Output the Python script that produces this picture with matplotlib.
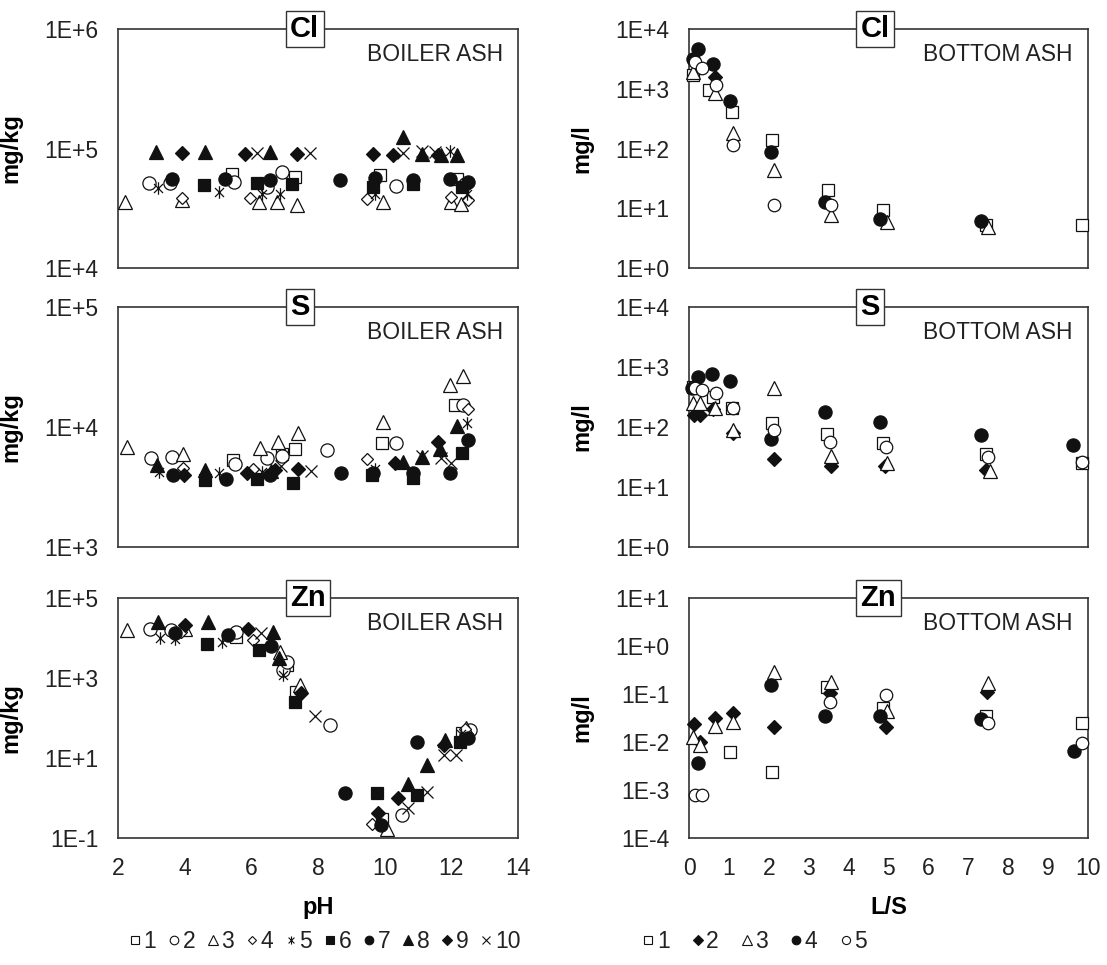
import math
import matplotlib
matplotlib.use('Agg')
import matplotlib.pyplot as plt
from matplotlib.path import Path
from matplotlib.lines import Line2D
from matplotlib.ticker import FixedLocator, FuncFormatter, NullLocator

plt.rcParams['font.family'] = ['Liberation Sans', 'DejaVu Sans']

# ---- boiler ash leaching vs pH (mg/kg), series 1-10: (pH list, value list) ----
cl_boiler = {
    '1': ([5.41, 7.31, 9.86, 12.16], [61600, 58000, 60000, 56000]),
    '2': ([2.94, 3.56, 5.48, 6.46, 6.91, 10.34, 12.4], [51000, 51000, 52000, 48000, 64000, 49000, 50000]),
    '3': ([2.2, 3.91, 6.23, 6.76, 7.36, 9.95, 12.0, 12.3], [35900, 37000, 36000, 36000, 33700, 36000, 36000, 34000]),
    '4': ([3.91, 5.96, 9.46, 12.0, 12.5], [38500, 38500, 38000, 39000, 37000]),
    '5': ([3.21, 5.03, 6.31, 6.86, 9.71, 11.96, 12.46], [46800, 43600, 42000, 42000, 41500, 95000, 42000]),
    '6': ([4.58, 6.16, 7.21, 9.64, 10.84, 12.31], [49600, 51000, 50000, 48000, 50000, 48000]),
    '7': ([3.61, 5.21, 6.56, 8.66, 9.71, 10.84, 11.96, 12.5], [56000, 56000, 54600, 54600, 57000, 54600, 56000, 52000]),
    '8': ([3.14, 4.61, 6.56, 10.55, 11.11, 11.7, 12.16], [94000, 94000, 93000, 126000, 90000, 88000, 88000]),
    '9': ([3.91, 5.81, 7.37, 9.65, 10.25, 11.6], [91000, 90000, 90000, 90000, 88000, 88000]),
    '10': ([6.16, 7.76, 10.55, 11.11, 11.5], [92000, 92000, 92000, 95000, 93000]),
}
s_boiler = {
    '1': ([5.44, 6.93, 7.31, 9.91, 12.1], [5300, 6000, 6500, 7400, 15200]),
    '2': ([3.0, 3.61, 5.5, 6.46, 6.93, 8.26, 10.34, 12.36], [5480, 5600, 4900, 5500, 5700, 6450, 7400, 15200]),
    '3': ([2.26, 3.96, 6.26, 6.81, 7.41, 9.96, 11.96, 12.36], [6850, 6000, 6640, 7550, 8850, 11070, 22400, 26600]),
    '4': ([3.96, 6.06, 9.46, 12.5], [4560, 4500, 5370, 14000]),
    '5': ([3.23, 5.03, 6.33, 9.7, 12.46], [4240, 4100, 4200, 4500, 10900]),
    '6': ([4.61, 6.16, 7.24, 9.63, 10.84, 12.31], [3620, 3660, 3390, 4000, 3760, 6050]),
    '7': ([3.64, 5.24, 6.56, 8.68, 9.66, 10.84, 11.96, 12.5], [3980, 3660, 3980, 4170, 4170, 4170, 4170, 7800]),
    '8': ([3.16, 4.61, 6.6, 10.55, 11.11, 11.65, 12.16], [4820, 4370, 4300, 5100, 5590, 6500, 10200]),
    '9': ([3.97, 5.86, 6.7, 7.41, 10.3, 11.61], [3980, 4170, 4400, 4470, 5000, 7550]),
    '10': ([6.9, 7.79, 11.11, 11.7, 12.0], [4700, 4300, 5700, 5500, 5000]),
}
zn_boiler = {
    '1': ([5.54, 7.08, 7.34, 9.93, 12.31], [10400, 2100, 450, 0.3, 41]),
    '2': ([2.96, 3.6, 5.54, 6.96, 7.06, 8.36, 10.51, 12.56], [16500, 16000, 14000, 1600, 2570, 67, 0.38, 50]),
    '3': ([2.26, 4.02, 6.86, 7.46, 10.08, 12.45], [15800, 16500, 4550, 670, 0.17, 55]),
    '4': ([3.9, 6.06, 9.61, 12.4], [14000, 8900, 0.23, 52]),
    '5': ([3.25, 3.71, 5.11, 6.96, 12.3], [9800, 9500, 8100, 1190, 40]),
    '6': ([4.66, 6.24, 7.31, 9.76, 10.96, 12.26], [6900, 5000, 255, 1.3, 1.19, 25]),
    '7': ([3.71, 5.31, 6.6, 8.81, 9.88, 10.98, 12.5], [13600, 11900, 6300, 1.3, 0.21, 25.5, 31]),
    '8': ([3.21, 4.69, 6.66, 6.83, 10.71, 11.28, 11.81], [25500, 25500, 14500, 3100, 2.3, 6.7, 28]),
    '9': ([4.01, 5.91, 7.48, 9.81, 10.41, 11.78], [21100, 16500, 415, 0.42, 0.98, 21]),
    '10': ([6.3, 7.91, 10.71, 11.26, 11.78, 12.13], [13100, 112, 0.56, 1.44, 12, 11.9]),
}

# ---- bottom ash leaching vs L/S (mg/l), series 1-5 ----
cl_bottom = {
    '1': ([0.11, 0.5, 1.07, 2.07, 3.49, 4.87, 7.45, 9.84], [1700, 950, 415, 139, 20, 9.3, 5.3, 5.25]),
    '2': ([0.65], [1600]),
    '3': ([0.11, 0.64, 1.1, 2.12, 3.57, 4.95, 7.5], [1930, 840, 184, 44, 7.7, 5.96, 4.9]),
    '4': ([0.11, 0.23, 0.59, 1.03, 2.05, 3.4, 4.79, 7.32], [3100, 4570, 2590, 624, 89, 12.9, 6.5, 6.1]),
    '5': ([0.15, 0.32, 0.68, 1.1, 2.12, 3.55], [2830, 2200, 1150, 115, 11.4, 11.4]),
}
s_bottom = {
    '1': ([0.1, 0.6, 1.07, 2.07, 3.47, 4.87, 7.44, 9.84], [470, 318, 205, 118, 76, 55, 35.5, 24.8]),
    '2': ([0.12, 0.28, 0.6, 1.1, 2.12, 3.55, 4.9, 7.45], [158, 158, 200, 80, 29, 22, 22, 19]),
    '3': ([0.11, 0.28, 0.64, 1.1, 2.12, 3.57, 4.95, 7.54], [248, 248, 205, 89, 442, 33, 25, 18.7]),
    '4': ([0.07, 0.23, 0.57, 1.03, 2.05, 3.41, 4.79, 7.31, 9.63], [440, 672, 763, 590, 63, 180, 120, 74, 49.6]),
    '5': ([0.15, 0.32, 0.68, 1.1, 2.12, 3.53, 4.94, 7.5, 9.86], [440, 413, 373, 210, 89, 57, 47, 32, 26]),
}
zn_bottom = {
    '1': ([1.04, 2.07, 3.45, 4.86, 7.45, 9.84], [0.0063, 0.0024, 0.138, 0.05, 0.034, 0.025]),
    '2': ([0.125, 0.28, 0.65, 1.1, 2.12, 3.53, 4.93, 7.48], [0.0237, 0.0102, 0.031, 0.041, 0.021, 0.107, 0.021, 0.112]),
    '3': ([0.1, 0.27, 0.64, 1.1, 2.12, 3.57, 4.97, 7.49], [0.0129, 0.0087, 0.0215, 0.026, 0.29, 0.18, 0.045, 0.166]),
    '4': ([0.23, 2.05, 3.41, 4.79, 7.31, 9.66], [0.0037, 0.155, 0.034, 0.034, 0.0296, 0.0065]),
    '5': ([0.15, 0.32, 3.53, 4.93, 7.5, 9.86], [0.00079, 0.00079, 0.069, 0.095, 0.0245, 0.0097]),
}

# excel-style asterisk: vertical bar plus an x
star = Path([(0, -1), (0, 1), (-0.72, -0.72), (0.72, 0.72), (-0.72, 0.72), (0.72, -0.72)],
            [Path.MOVETO, Path.LINETO, Path.MOVETO, Path.LINETO, Path.MOVETO, Path.LINETO])

K = '#111111'
boiler_styles = {
    '1': dict(marker='s', mfc='white', ms=8),
    '2': dict(marker='o', mfc='white', ms=9.5),
    '3': dict(marker='^', mfc='white', ms=10),
    '4': dict(marker='D', mfc='white', ms=6.5),
    '5': dict(marker=star, mfc='none', ms=9),
    '6': dict(marker='s', mfc=K, ms=8),
    '7': dict(marker='o', mfc=K, ms=9.5),
    '8': dict(marker='^', mfc=K, ms=10),
    '9': dict(marker='D', mfc=K, ms=7.5),
    '10': dict(marker='x', mfc='none', ms=9),
}
bottom_styles = {
    '1': dict(marker='s', mfc='white', ms=8),
    '2': dict(marker='D', mfc=K, ms=7.5),
    '3': dict(marker='^', mfc='white', ms=10),
    '4': dict(marker='o', mfc=K, ms=9.5),
    '5': dict(marker='o', mfc='white', ms=9),
}

fig = plt.figure(figsize=(11.07, 9.65), dpi=100)

W, H = 1107, 965
col_x = [(118, 400), (689, 399)]
row_y = [(29, 268), (307, 547), (598, 838)]


def make_ax(col, row):
    x0, w = col_x[col]
    yt, yb = row_y[row]
    return fig.add_axes([x0 / W, 1 - yb / H, w / W, (yb - yt) / H])


def fmt_exp(v, pos):
    e = int(round(math.log10(v)))
    return f'1E{e:+d}'


def draw(ax, data, styles, xlim, xticks, ylo, yhi, ystep, element, tag, ylabel, xlabel=None):
    for key, (xs, ys) in data.items():
        st = styles[key]
        ax.plot(xs, ys, linestyle='none', marker=st['marker'], markersize=st['ms'],
                markerfacecolor=st['mfc'], markeredgecolor=K, markeredgewidth=0.9,
                clip_on=False, zorder=3)
    ax.set_yscale('log')
    ax.set_ylim(10.0 ** ylo, 10.0 ** yhi)
    ax.yaxis.set_major_locator(FixedLocator([10.0 ** e for e in range(ylo, yhi + 1, ystep)]))
    ax.yaxis.set_major_formatter(FuncFormatter(fmt_exp))
    ax.yaxis.set_minor_locator(NullLocator())
    ax.set_xlim(*xlim)
    ax.set_xticks(xticks)
    if xlabel is None:
        ax.set_xticklabels([])
    else:
        ax.set_xlabel(xlabel, fontsize=17, fontweight='bold')
        ax.xaxis.set_label_coords(0.5, -0.24)
    ax.tick_params(length=0, labelsize=16.5, labelcolor='#222222', pad=14)
    for sp in ax.spines.values():
        sp.set_linewidth(1.2)
        sp.set_color('#333333')
    ax.set_ylabel(ylabel, fontsize=17, fontweight='bold')
    ax.yaxis.set_label_coords(-0.24, 0.5)
    ax.text(0.43, 1.0, element, transform=ax.transAxes, ha='left', va='center',
            fontsize=21, fontweight='bold', zorder=6,
            bbox=dict(boxstyle='square,pad=0.15', fc='white', ec='#333333', lw=1.0))
    ax.text(0.962, 0.895, tag, transform=ax.transAxes, ha='right', va='center',
            fontsize=16.5, color='#222222')


ph_ticks = [2, 4, 6, 8, 10, 12, 14]
ls_ticks = list(range(0, 11))

draw(make_ax(0, 0), cl_boiler, boiler_styles, (2, 14), ph_ticks, 4, 6, 1, 'Cl', 'BOILER ASH', 'mg/kg')
draw(make_ax(0, 1), s_boiler, boiler_styles, (2, 14), ph_ticks, 3, 5, 1, 'S', 'BOILER ASH', 'mg/kg')
draw(make_ax(0, 2), zn_boiler, boiler_styles, (2, 14), ph_ticks, -1, 5, 2, 'Zn', 'BOILER ASH', 'mg/kg', 'pH')
draw(make_ax(1, 0), cl_bottom, bottom_styles, (0, 10), ls_ticks, 0, 4, 1, 'Cl', 'BOTTOM ASH', 'mg/l')
draw(make_ax(1, 1), s_bottom, bottom_styles, (0, 10), ls_ticks, 0, 4, 1, 'S', 'BOTTOM ASH', 'mg/l')
draw(make_ax(1, 2), zn_bottom, bottom_styles, (0, 10), ls_ticks, -4, 1, 1, 'Zn', 'BOTTOM ASH', 'mg/l', 'L/S')


def handles(styles):
    out = []
    for key, st in styles.items():
        out.append(Line2D([], [], linestyle='none', marker=st['marker'], markersize=st['ms'] * 0.65,
                          markerfacecolor=st['mfc'], markeredgecolor=K, markeredgewidth=0.8, label=key))
    return out


leg_kw = dict(frameon=False, fontsize=16.5, handlelength=0.45, handletextpad=0.15,
              borderaxespad=0, labelcolor='#222222')
fig.legend(handles=handles(boiler_styles), loc='center', ncol=10, columnspacing=0.55,
           bbox_to_anchor=(325 / W, 1 - 942 / H), **leg_kw)
fig.legend(handles=handles(bottom_styles), loc='center', ncol=5, columnspacing=1.0,
           bbox_to_anchor=(755 / W, 1 - 942 / H), **leg_kw)

fig.savefig('out.png', dpi=100)
